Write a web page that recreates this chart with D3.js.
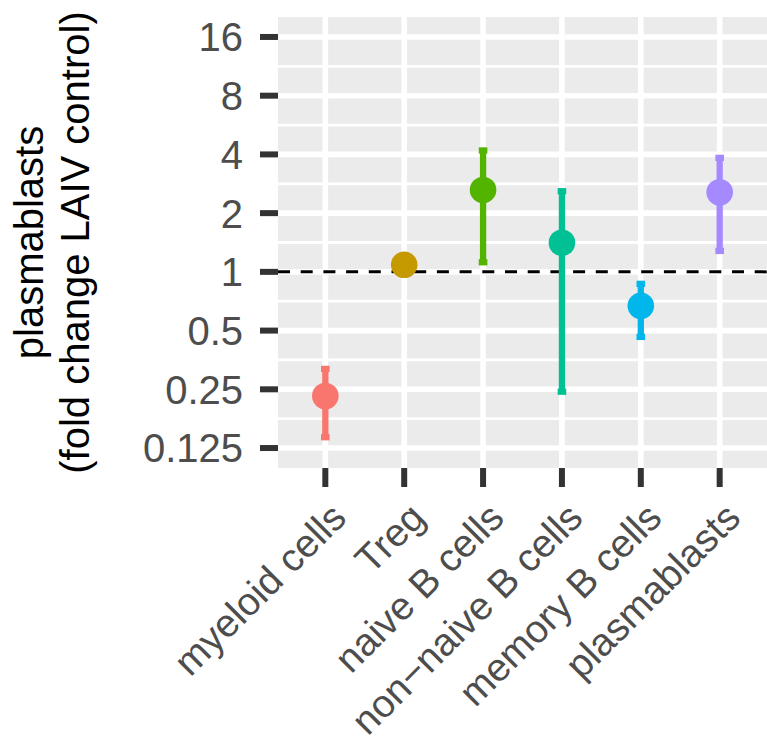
<!DOCTYPE html>
<html>
<head>
  <meta charset="utf-8">
  <script src="https://d3js.org/d3.v7.min.js"></script>
  <style>
    body { margin: 0; background: #fff; }
    text { font-family: "Liberation Sans", Arial, sans-serif; }
  </style>
</head>
<body>
<script>
  // cell types on the x axis
  var cells = ["myeloid cells", "Treg", "naive B cells", "non\u2212naive B cells", "memory B cells", "plasmablasts"];
  // fold change (point) and interval ends
  var foldChange = [0.231, 1.087, 2.63, 1.41, 0.67, 2.56];
  var lower      = [0.142, 1.04, 1.12, 0.243, 0.464, 1.28];
  var upper      = [0.318, 1.13, 4.19, 2.59, 0.868, 3.84];
  var colours    = ["#F8766D", "#C49A00", "#53B400", "#00C094", "#00B6EB", "#A58AFF"];
  var yTicks     = [0.125, 0.25, 0.5, 1, 2, 4, 8, 16];
  var yTickLabels = ["0.125", "0.25", "0.5", "1", "2", "4", "8", "16"];

  var W = 767, H = 750;
  var panel = {left: 278, top: 17, right: 767, bottom: 468};
  var fs = 40;

  var svg = d3.select("body").append("svg")
      .attr("width", W).attr("height", H);

  var y = d3.scaleLog().base(2)
      .domain([Math.pow(2, -3.34), Math.pow(2, 4.34)])
      .range([panel.bottom, panel.top]);

  var x = d3.scalePoint()
      .domain(cells)
      .range([panel.left, panel.right])
      .padding(0.6);

  // panel background
  svg.append("rect")
      .attr("x", panel.left).attr("y", panel.top)
      .attr("width", panel.right - panel.left)
      .attr("height", panel.bottom - panel.top)
      .attr("fill", "#EBEBEB");

  // minor grid at half steps
  var minor = d3.range(-2.5, 4, 1).map(function(k) { return Math.pow(2, k); });
  svg.append("g").selectAll("line").data(minor).enter().append("line")
      .attr("x1", panel.left).attr("x2", panel.right)
      .attr("y1", function(d) { return y(d); })
      .attr("y2", function(d) { return y(d); })
      .attr("stroke", "#fff").attr("stroke-width", 2.8);

  // major grid
  svg.append("g").selectAll("line").data(yTicks).enter().append("line")
      .attr("x1", panel.left).attr("x2", panel.right)
      .attr("y1", function(d) { return y(d); })
      .attr("y2", function(d) { return y(d); })
      .attr("stroke", "#fff").attr("stroke-width", 5.6);

  svg.append("g").selectAll("line").data(cells).enter().append("line")
      .attr("y1", panel.top).attr("y2", panel.bottom)
      .attr("x1", function(d) { return x(d); })
      .attr("x2", function(d) { return x(d); })
      .attr("stroke", "#fff").attr("stroke-width", 5.6);

  // reference line at 1
  svg.append("line")
      .attr("x1", panel.left).attr("x2", panel.right)
      .attr("y1", y(1)).attr("y2", y(1))
      .attr("stroke", "#000").attr("stroke-width", 3)
      .attr("stroke-dasharray", "12,10.7");

  var data = cells.map(function(c, i) {
    return {cell: c, fc: foldChange[i], lo: lower[i], hi: upper[i], col: colours[i]};
  });

  // error bars
  var bars = svg.append("g").selectAll("g").data(data).enter().append("g");
  bars.append("line")
      .attr("x1", function(d) { return x(d.cell); })
      .attr("x2", function(d) { return x(d.cell); })
      .attr("y1", function(d) { return y(d.lo); })
      .attr("y2", function(d) { return y(d.hi); })
      .attr("stroke", function(d) { return d.col; })
      .attr("stroke-width", 6.3);
  ["lo", "hi"].forEach(function(k) {
    bars.append("line")
        .attr("x1", function(d) { return x(d.cell) - 4.3; })
        .attr("x2", function(d) { return x(d.cell) + 4.3; })
        .attr("y1", function(d) { return y(d[k]); })
        .attr("y2", function(d) { return y(d[k]); })
        .attr("stroke", function(d) { return d.col; })
        .attr("stroke-width", 6.3);
  });

  // points
  svg.append("g").selectAll("circle").data(data).enter().append("circle")
      .attr("cx", function(d) { return x(d.cell); })
      .attr("cy", function(d) { return y(d.fc); })
      .attr("r", 13.3)
      .attr("fill", function(d) { return d.col; });

  // y axis
  var yAxis = svg.append("g");
  yAxis.selectAll("line").data(yTicks).enter().append("line")
      .attr("x1", panel.left - 18).attr("x2", panel.left)
      .attr("y1", function(d) { return y(d); })
      .attr("y2", function(d) { return y(d); })
      .attr("stroke", "#333333").attr("stroke-width", 6);
  yAxis.selectAll("text").data(yTicks).enter().append("text")
      .attr("x", 243)
      .attr("y", function(d) { return y(d); })
      .attr("dy", "0.36em")
      .attr("text-anchor", "end")
      .attr("font-size", fs)
      .attr("fill", "#4D4D4D")
      .text(function(d, i) { return yTickLabels[i]; });

  // x axis
  var xAxis = svg.append("g");
  xAxis.selectAll("line").data(cells).enter().append("line")
      .attr("x1", function(d) { return x(d); })
      .attr("x2", function(d) { return x(d); })
      .attr("y1", panel.bottom).attr("y2", panel.bottom + 19)
      .attr("stroke", "#333333").attr("stroke-width", 6);
  xAxis.selectAll("text").data(cells).enter().append("text")
      .attr("transform", function(d) { return "translate(" + (x(d) + 3) + "," + 500 + ") rotate(-45)"; })
      .attr("dy", "0.72em")
      .attr("text-anchor", "end")
      .attr("font-size", 39)
      .attr("fill", "#4D4D4D")
      .text(function(d) { return d; });

  // y title
  var cy = (panel.top + panel.bottom) / 2;
  svg.append("text")
      .attr("transform", "translate(43," + cy + ") rotate(-90)")
      .attr("text-anchor", "middle")
      .attr("font-size", fs)
      .attr("fill", "#000")
      .text("plasmablasts");
  svg.append("text")
      .attr("transform", "translate(89," + cy + ") rotate(-90)")
      .attr("text-anchor", "middle")
      .attr("font-size", fs)
      .attr("fill", "#000")
      .text("(fold change LAIV control)");
</script>
</body>
</html>
